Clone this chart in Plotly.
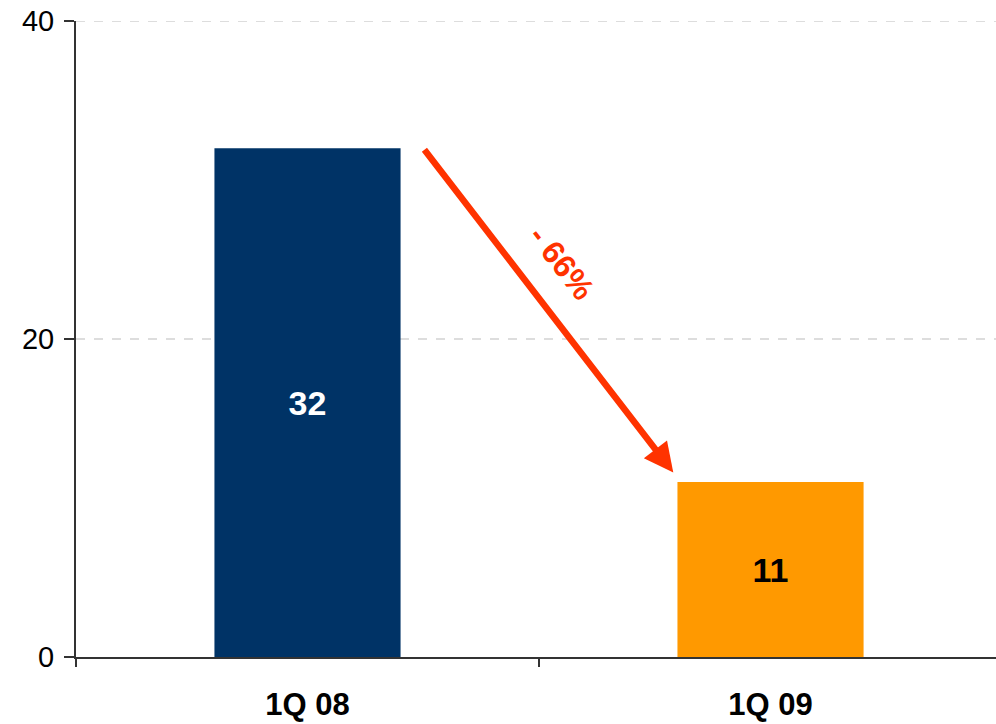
import plotly.graph_objects as go

categories = ["1Q 08", "1Q 09"]
values = [32, 11]
bar_colors = ["#003366", "#FF9900"]
label_colors = ["#FFFFFF", "#000000"]
y_ticks = [0, 20, 40]
change_label = "- 66%"

FONT = "Liberation Sans, Arial, sans-serif"

fig = go.Figure()
fig.add_trace(go.Bar(
    x=categories,
    y=values,
    marker=dict(color=bar_colors, line=dict(width=0)),
    text=[str(v) for v in values],
    textposition="inside",
    insidetextanchor="middle",
    textfont=dict(family=FONT, size=34, color=label_colors, weight="bold"),
    hoverinfo="skip",
))

# dashed horizontal grid lines at the non-zero y ticks
for yv in y_ticks:
    if yv > 0:
        fig.add_shape(type="line", xref="paper", yref="y", x0=0, x1=1, y0=yv, y1=yv,
                      line=dict(color="#BBBBBB", width=1, dash="dash"), layer="below")

# arrow from top of first bar towards second bar
fig.add_annotation(
    x=0.79, y=values[1] + 0.6,
    ax=0.25, ay=values[0],
    xref="x", yref="y", axref="x", ayref="y",
    showarrow=True, arrowhead=2, arrowsize=0.9, arrowwidth=6.5,
    arrowcolor="#FF3300", text="",
)
fig.add_annotation(
    x=0.55, y=24.8, xref="x", yref="y",
    text="<b>" + change_label + "</b>", showarrow=False,
    textangle=52,
    font=dict(family=FONT, size=32, color="#FF3300"),
)

fig.update_layout(
    width=996, height=724,
    margin=dict(l=76, r=0, t=21, b=67),
    paper_bgcolor="white", plot_bgcolor="white",
    bargap=0.598,
    showlegend=False,
    font=dict(family=FONT, color="#000000"),
)
fig.update_xaxes(
    type="category",
    range=[-0.5, 1.487],
    tickson="boundaries",
    ticks="outside", ticklen=8, tickwidth=1.5, tickcolor="#333333",
    showline=True, linecolor="#333333", linewidth=2,
    showgrid=False,
    automargin=False,
    tickfont=dict(family=FONT, size=31, color="#000000", weight="bold"),
    ticklabelstandoff=19,
)
fig.update_yaxes(
    range=[0, 40],
    tickvals=y_ticks,
    ticks="outside", ticklen=10, tickwidth=1.5, tickcolor="#333333",
    showline=True, linecolor="#333333", linewidth=2,
    showgrid=False,
    zeroline=False,
    automargin=False,
    tickfont=dict(family=FONT, size=29, color="#000000"),
    ticklabelstandoff=4,
)

fig.write_html("out.html", config={"displayModeBar": False},
               post_script="document.body.style.margin='0';document.body.style.overflow='hidden';")
